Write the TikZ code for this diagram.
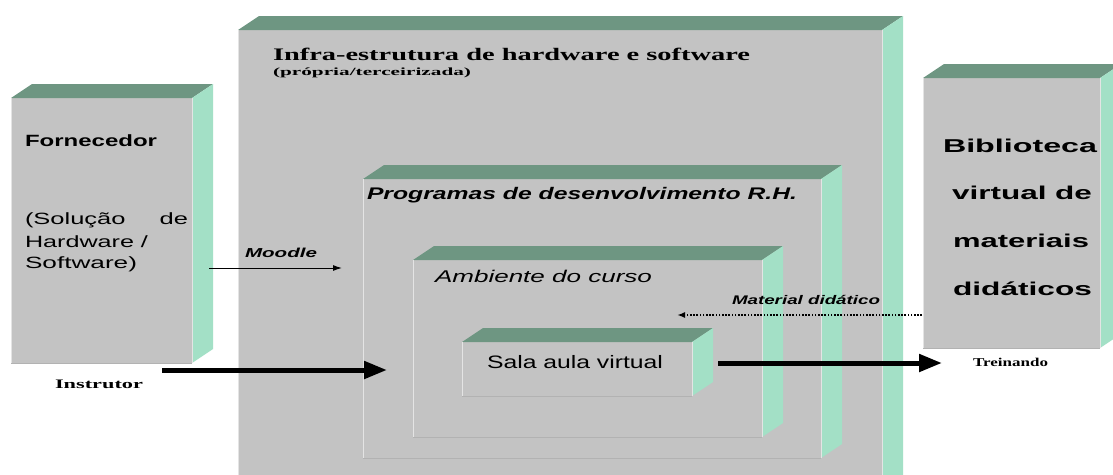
\documentclass[tikz,border=0pt]{standalone}
\usepackage{fontspec}
\setmainfont{Liberation Serif}
\newfontfamily\arial{Liberation Sans}
\usepackage{graphicx}
\usetikzlibrary{arrows.meta}
\definecolor{frontc}{RGB}{195,195,195}
\definecolor{topc}{RGB}{110,150,130}
\definecolor{sidec}{RGB}{163,224,198}
\definecolor{hlc}{RGB}{228,228,228}
\definecolor{dkc}{RGB}{178,178,178}
\newcommand\wb[2]{\resizebox{#1pt}{\height}{#2}}
\newcommand\fs[1]{\fontsize{#1}{#1}\selectfont}
\tikzset{
  frontface/.style={fill=frontc, inner sep=0pt, outer sep=0pt, anchor=north west},
  topface/.style={fill=topc},
  sideface/.style={fill=sidec},
  hledge/.style={draw=hlc, line width=1pt},
  dkedge/.style={draw=dkc, line width=0.8pt},
  lbl/.style={anchor=base west, inner sep=0pt, outer sep=0pt},
  thinarrow/.style={line width=1pt, -{Latex[length=9pt,width=6pt]}},
  thickarrow/.style={line width=5pt, -{Triangle[length=23pt,width=17pt]}},
  dotarrow/.style={line width=1.6pt, dash pattern=on 1.6pt off 1.6pt, -{Latex[length=8pt,width=6pt]}},
}
% name, x1, y1, x2, y2 (front face, pixel coordinates)
\newcommand\cuboid[5]{%
  \node[frontface, minimum width={(#4-#2)*1pt}, minimum height={(#5-#3)*1pt}] (#1) at (#2,#3) {};
  \fill[topface] (#1.north west) -- ++(21,-14) -- ([shift={(21,-14)}]#1.north east) -- (#1.north east) -- cycle;
  \fill[sideface] (#1.north east) -- ++(21,-14) -- ([shift={(21,-14)}]#1.south east) -- (#1.south east) -- cycle;
  \draw[hledge] (#1.north west) -- (#1.south west);
  \draw[hledge] (#1.north east) -- (#1.south east);
  \draw[dkedge] (#1.south west) -- (#1.south east);
}
\begin{document}
\begin{tikzpicture}[x=1pt,y=-1pt]
\useasboundingbox (0,0) rectangle (1113,474);
\clip (0,0) rectangle (1113,474);
\fill[white] (0,0) rectangle (1113,474);

\cuboid{infra}{238}{30}{882}{495}
\cuboid{prog}{363}{179}{821}{458}
\cuboid{amb}{413}{260}{762}{437}
\cuboid{sala}{462}{342}{692}{396}
\cuboid{forn}{11}{98}{192}{363}
\cuboid{bib}{923}{78}{1100}{348}

% texts
\node[lbl] (fornT) at (25,146.5) {\arial\bfseries\fs{16.3}\wb{132}{Fornecedor}};
\node[lbl] (fornS1) at (25,224) {\arial\fs{16.3}\wb{163}{\hbox to 6.4em{(Solução\hfill de}}};
\node[lbl] (fornS2) at (25,247) {\arial\fs{16.3}\wb{123}{Hardware /}};
\node[lbl] (fornS3) at (25,268) {\arial\fs{16.3}\wb{112}{Software)}};

\node[lbl] (infraT) at (273,60) {\bfseries\fs{17.6}\wb{477}{Infra-estrutura de hardware e software}};
\node[lbl] (infraS) at (273,75) {\bfseries\fs{11}\wb{198}{(própria/terceirizada)}};

\node[lbl] (progT) at (367,199) {\arial\bfseries\itshape\fs{16.8}\wb{430}{Programas de desenvolvimento R.H.}};
\node[lbl] (ambT) at (435,282) {\arial\itshape\fs{17}\wb{217}{Ambiente do curso}};
\node[lbl] (salaT) at (487,368) {\arial\fs{18}\wb{176}{Sala aula virtual}};

\node[lbl] (bib1) at (943,152) {\arial\bfseries\fs{18.6}\wb{154}{Biblioteca}};
\node[lbl] (bib2) at (952,199) {\arial\bfseries\fs{18.6}\wb{140}{virtual de}};
\node[lbl] (bib3) at (953,247) {\arial\bfseries\fs{18.6}\wb{136}{materiais}};
\node[lbl] (bib4) at (953,295) {\arial\bfseries\fs{18.6}\wb{139}{didáticos}};

\node[lbl] (moodleT) at (245,257) {\arial\bfseries\itshape\fs{13}\wb{72}{Moodle}};
\node[lbl] (matT) at (732,304) {\arial\bfseries\itshape\fs{12.5}\wb{148}{Material didático}};
\node[lbl] (instT) at (55,388) {\bfseries\fs{13}\wb{88}{Instrutor}};
\node[lbl] (treinT) at (973,366) {\bfseries\fs{12}\wb{75}{Treinando}};

% connectors
\coordinate (moodleA) at (209,268);
\coordinate (moodleB) at (342,268);
\coordinate (instA) at (162,370);
\coordinate (instB) at (387,370);
\coordinate (salaOut) at (718,363);
\coordinate (treinIn) at (942,363);
\coordinate (matA) at (922,315);
\coordinate (matB) at (677,315);

\draw[thinarrow] (moodleA) -- (moodleB);
\draw[thickarrow] (instA) -- (instB);
\draw[thickarrow] (salaOut) -- (treinIn);
\draw[dotarrow] (matA) -- (matB);
\end{tikzpicture}
\end{document}
